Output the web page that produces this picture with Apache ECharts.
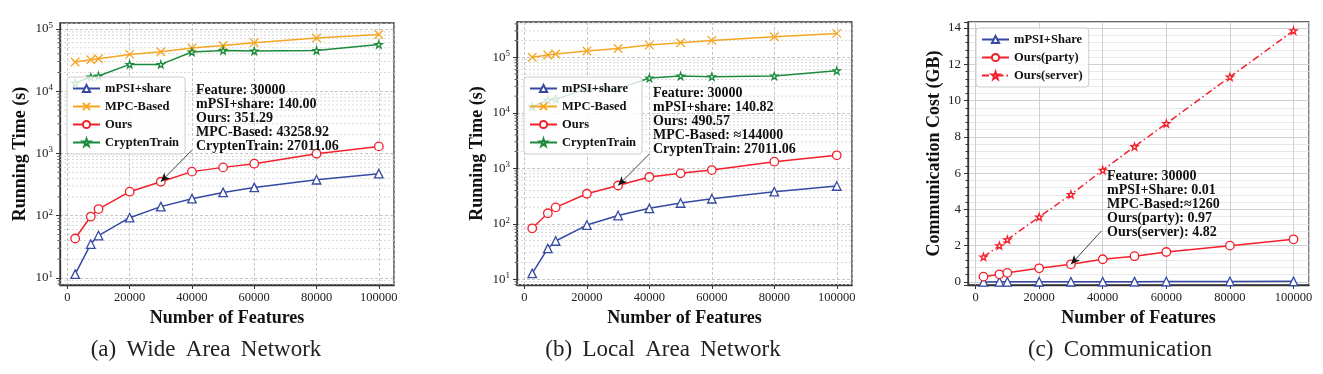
<!DOCTYPE html>
<html>
<head>
<meta charset="utf-8">
<script src="https://cdn.jsdelivr.net/npm/echarts@6/dist/echarts.min.js"></script>
<style>
html,body{margin:0;padding:0;background:#fff;}
#chart{width:1323px;height:374px;}
</style>
</head>
<body>
<div id="chart"></div>
<script>
// ---------------- data ----------------
const features = [2500, 7500, 10000, 20000, 30000, 40000, 50000, 60000, 80000, 100000];

// (a) Wide Area Network – running time (s)
const wanMPSI    = [11.5, 35, 48, 93, 140.00, 188, 237, 285, 378, 473];
const wanMPC     = [29500, 32100, 33300, 39100, 43258.92, 49500, 54500, 60300, 71700, 81800];
const wanOurs    = [43, 97, 128, 243, 351.29, 511, 598, 686, 993, 1300];
const wanCrypten = [13600, 16900, 17600, 27000, 27011.06, 42800, 45300, 44300, 45300, 56600];

// (b) Local Area Network – running time (s)
const lanMPSI    = [12.8, 36, 49, 95, 140.82, 190, 237, 283, 379, 480];
const lanMPC     = [100000, 110000, 114600, 130000, 144000, 166000, 183000, 202000, 235000, 270000];
const lanOurs    = [83, 155, 198, 348, 490.57, 697, 812, 931, 1315, 1715];
const lanCrypten = [12900, 16900, 17600, 27000, 27011.06, 42400, 46000, 44700, 46000, 57400];

// (c) Communication cost (GB)
const commMPSI   = [0.002, 0.005, 0.006, 0.008, 0.01, 0.013, 0.016, 0.019, 0.025, 0.031];
const commParty  = [0.29, 0.42, 0.50, 0.75, 0.97, 1.25, 1.42, 1.65, 2.00, 2.35];
const commServer = [1.38, 2.00, 2.33, 3.58, 4.82, 6.16, 7.46, 8.73, 11.30, 13.85];

// annotation texts
const noteA = ['Feature: 30000', 'mPSI+share: 140.00', 'Ours: 351.29', 'MPC-Based: 43258.92', 'CryptenTrain: 27011.06'];
const noteB = ['Feature: 30000', 'mPSI+share: 140.82', 'Ours: 490.57', 'MPC-Based: \u2248144000', 'CryptenTrain: 27011.06'];
const noteC = ['Feature: 30000', 'mPSI+Share: 0.01', 'MPC-Based:\u22481260', 'Ours(party): 0.97', 'Ours(server): 4.82'];

const captions = ['(a) \u2009Wide \u2009Area \u2009Network', '(b) \u2009Local \u2009Area \u2009Network', '(c) \u2009Communication'];

// log minor tick multipliers
const minorMult = [2, 3, 4, 5, 6, 7, 8, 9];

// ---------------- style ----------------
const SERIF = '"Liberation Serif", "Times New Roman", "DejaVu Serif", serif';
const BLUE = '#3549a3', ORANGE = '#f5a623', RED = '#f2202b', GREEN = '#1c8a3c';
const SPINE = '#333333';

const STAR = 'path://M50,2 L61,36 L97,36 L68,57 L79,92 L50,71 L21,92 L32,57 L3,36 L39,36 Z';
const XMARK = 'path://M0,0 L10,10 M10,0 L0,10';

function pts(arr) { return features.map((x, i) => [x, arr[i]]); }

function lineSeries(name, arr, idx, color, symbol, opts) {
  opts = opts || {};
  const filled = symbol === XMARK;
  return Object.assign({
    name: name, type: 'line', xAxisIndex: idx, yAxisIndex: idx,
    data: pts(arr), symbol: symbol, symbolSize: opts.size || 8.5, showSymbol: true,
    lineStyle: { color: color, width: 1.5, type: opts.dash || 'solid' },
    itemStyle: { color: filled ? color : '#ffffff', borderColor: color, borderWidth: 1.3 },
    emphasis: { disabled: true }, z: 3, animation: false
  }, opts.extra || {});
}

function minorData(min, max) {
  const out = [];
  for (let e = -1; e <= 6; e++) {
    minorMult.forEach(m => { const v = m * Math.pow(10, e); if (v > min && v < max) out.push([0, v]); });
  }
  return out;
}

function minorSeries(idx, min, max) {
  return {
    name: '_minor' + idx, type: 'custom', xAxisIndex: idx, yAxisIndex: idx, silent: true, z: 1,
    clip: false, animation: false,
    data: minorData(min, max),
    renderItem: function (params, api) {
      const cs = params.coordSys;
      const y = api.coord([0, api.value(1)])[1];
      return {
        type: 'group', children: [
          { type: 'line', shape: { x1: cs.x, y1: y, x2: cs.x + cs.width, y2: y },
            style: { stroke: '#cfcfcf', lineWidth: 0.8, lineDash: [2, 2] } },
          { type: 'line', shape: { x1: cs.x - 2.5, y1: y, x2: cs.x, y2: y },
            style: { stroke: SPINE, lineWidth: 0.8 } }
        ]
      };
    }
  };
}

function arrow(from, to) {
  return {
    silent: true, symbol: ['none', 'arrow'], symbolSize: [6, 9], animation: false,
    lineStyle: { color: '#111', width: 0.8, type: 'solid' },
    label: { show: false }, emphasis: { disabled: true },
    data: [[{ coord: from }, { coord: to }]]
  };
}

function logLabel(v) {
  const e = Math.round(Math.log10(v));
  return '{b|10}{s|' + e + '}';
}

const grids = [
  { left: 60, top: 23, width: 334, height: 262 },
  { left: 517, top: 22, width: 335, height: 263 },
  { left: 968, top: 22, width: 341, height: 263 }
].map(g => Object.assign(g, { show: true, borderColor: SPINE, borderWidth: 1.3, backgroundColor: 'transparent', containLabel: false, outerBoundsMode: 'none' }));

function xAxis(idx, dashed) {
  return {
    type: 'value', gridIndex: idx, min: -2375, max: 104875, splitNumber: 5,
    axisLine: { show: true, onZero: false, lineStyle: { color: SPINE, width: 1.3 } },
    axisTick: { show: true, length: 4, lineStyle: { color: SPINE } },
    axisLabel: { formatter: v => String(Math.round(v)), showMinLabel: false, showMaxLabel: false, fontFamily: SERIF, fontSize: 12.5, color: '#222', margin: 6 },
    splitLine: { show: true, lineStyle: dashed ? { color: '#b8b8b8', width: 0.8, type: [3, 2] } : { color: '#d0d0d0', width: 1 } },
    name: 'Number of Features', nameLocation: 'middle', nameGap: 22,
    nameTextStyle: { fontFamily: SERIF, fontWeight: 'bold', fontSize: 18, color: '#111' }
  };
}

function logYAxis(idx, min, max, gap) {
  return {
    type: 'log', logBase: 10, gridIndex: idx, min: min, max: max,
    axisLine: { show: true, onZero: false, lineStyle: { color: SPINE, width: 1.3 } },
    axisTick: { show: true, length: 4, lineStyle: { color: SPINE } },
    axisLabel: {
      formatter: logLabel, showMinLabel: false, showMaxLabel: false, margin: 7,
      rich: {
        b: { fontFamily: SERIF, fontSize: 13, color: '#222', lineHeight: 16 },
        s: { fontFamily: SERIF, fontSize: 9, color: '#222', verticalAlign: 'top', lineHeight: 10 }
      }
    },
    splitLine: { show: true, lineStyle: { color: '#b8b8b8', width: 0.8, type: [3, 2] } },
    name: 'Running Time (s)', nameLocation: 'middle', nameGap: gap,
    nameTextStyle: { fontFamily: SERIF, fontWeight: 'bold', fontSize: 18, color: '#111' }
  };
}

const commYAxis = {
  type: 'value', gridIndex: 2, min: -0.17, max: 14.33, splitNumber: 7,
  axisLine: { show: true, onZero: false, lineStyle: { color: SPINE, width: 1.3 } },
  axisTick: { show: true, length: 4, lineStyle: { color: SPINE } },
  minorTick: { show: true, splitNumber: 5, length: 2.5, lineStyle: { color: SPINE } },
  minorSplitLine: { show: true, lineStyle: { color: '#e2e2e2', width: 0.8 } },
  axisLabel: { showMinLabel: false, showMaxLabel: false, fontFamily: SERIF, fontSize: 13, color: '#222', margin: 7 },
  splitLine: { show: true, lineStyle: { color: '#d0d0d0', width: 1 } },
  name: 'Communication Cost (GB)', nameLocation: 'middle', nameGap: 25,
  nameTextStyle: { fontFamily: SERIF, fontWeight: 'bold', fontSize: 18, color: '#111' }
};

function legend(data, left, top) {
  return {
    data: data, orient: 'vertical', left: left, top: top, z: 10,
    itemWidth: 27, itemHeight: 9, itemGap: 5, padding: [5, 6, 5, 5],
    backgroundColor: 'rgba(255,255,255,0.8)', borderColor: '#cccccc', borderWidth: 1, borderRadius: 3,
    textStyle: { fontFamily: SERIF, fontWeight: 'bold', fontSize: 12.5, color: '#111' },
    selectedMode: false
  };
}

function note(lines, x, y) {
  return {
    type: 'text', x: x, y: y, z: 20, silent: true,
    style: { text: lines.join('\n'), font: 'bold 14px ' + SERIF, lineHeight: 14, fill: '#111', align: 'left', verticalAlign: 'top' }
  };
}

function caption(text, cx, cy) {
  return {
    type: 'text', x: cx, y: cy, silent: true,
    style: { text: text, font: '23px ' + SERIF, fill: '#222', align: 'center', verticalAlign: 'middle' }
  };
}

const option = {
  animation: false,
  backgroundColor: '#ffffff',
  grid: grids,
  xAxis: [xAxis(0, true), xAxis(1, true), xAxis(2, false)],
  yAxis: [logYAxis(0, 7.7, 125000, 31), logYAxis(1, 7.9, 433000, 31), commYAxis],
  legend: [
    legend(['mPSI+share', 'MPC-Based', 'Ours', 'CryptenTrain'], 67, 77),
    legend(['mPSI+share', 'MPC-Based', 'Ours', 'CryptenTrain'], 524, 77),
    legend(['mPSI+Share', 'Ours(party)', 'Ours(server)'], 976, 28)
  ],
  series: [
    minorSeries(0, 7.7, 125000),
    minorSeries(1, 7.9, 433000),
    lineSeries('mPSI+share', wanMPSI, 0, BLUE, 'triangle'),
    lineSeries('MPC-Based', wanMPC, 0, ORANGE, XMARK),
    lineSeries('Ours', wanOurs, 0, RED, 'circle', { extra: { markLine: arrow([40000, 1130], [30000, 351.29]) } }),
    lineSeries('CryptenTrain', wanCrypten, 0, GREEN, STAR, { size: 7 }),
    lineSeries('mPSI+share', lanMPSI, 1, BLUE, 'triangle'),
    lineSeries('MPC-Based', lanMPC, 1, ORANGE, XMARK),
    lineSeries('Ours', lanOurs, 1, RED, 'circle', { extra: { markLine: arrow([40000, 1810], [30000, 490.57]) } }),
    lineSeries('CryptenTrain', lanCrypten, 1, GREEN, STAR, { size: 7 }),
    lineSeries('mPSI+Share', commMPSI, 2, BLUE, 'triangle'),
    lineSeries('Ours(party)', commParty, 2, RED, 'circle', { extra: { markLine: arrow([39600, 2.81], [30000, 0.97]) } }),
    lineSeries('Ours(server)', commServer, 2, RED, STAR, { size: 7, dash: [7, 3, 1.5, 3] })
  ],
  graphic: [
    note(noteA, 196, 83),
    note(noteB, 653, 86),
    note(noteC, 1107, 169),
    caption(captions[0], 206, 350),
    caption(captions[1], 663, 350),
    caption(captions[2], 1120, 350)
  ]
};

const chart = echarts.init(document.getElementById('chart'), null, { renderer: 'canvas' });
chart.setOption(option);
</script>
</body>
</html>
